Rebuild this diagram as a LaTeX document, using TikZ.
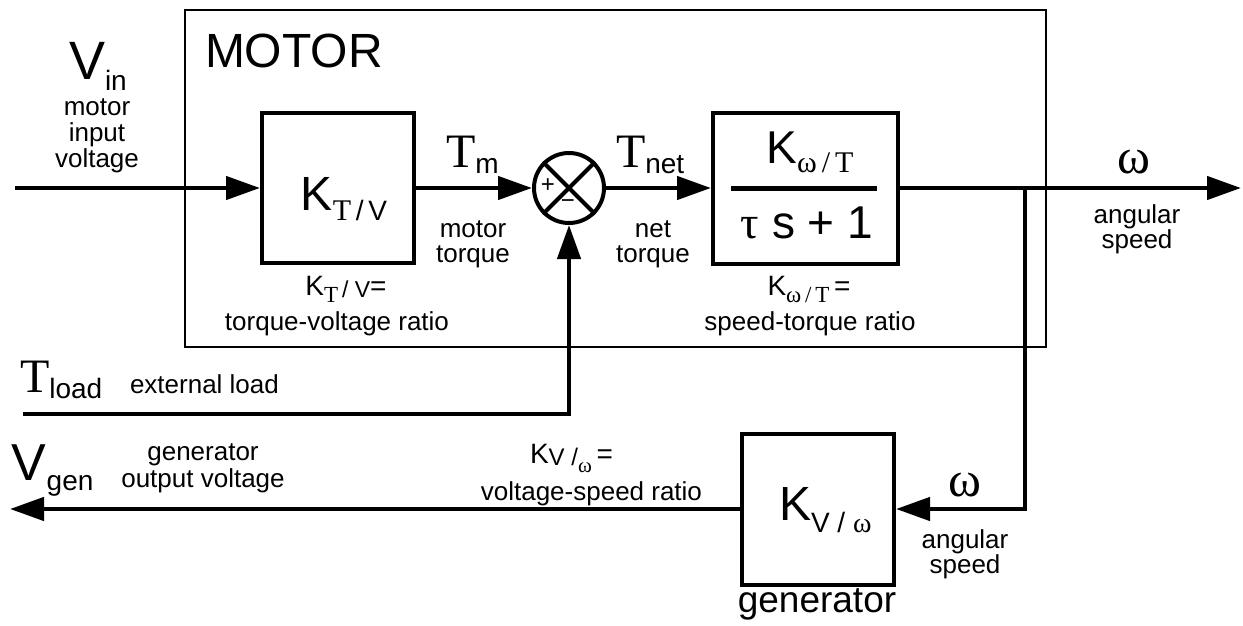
\documentclass[tikz,border=0pt]{standalone}
\usepackage{fontspec}
\setmainfont{Liberation Sans}
\newfontfamily\tms{Liberation Serif}
\usetikzlibrary{arrows.meta,shapes.geometric}
\newcommand\fz[1]{\fontsize{#1pt}{#1pt}\selectfont}
\begin{document}
\begin{tikzpicture}[x=1pt,y=-1pt,
  sig/.style={line width=4.5pt},
  sigarrow/.style={line width=4.5pt,-{Triangle[length=34pt,width=23pt]}},
  blk/.style={draw,line width=4pt,inner sep=0pt},
  txt/.style={inner sep=0pt,outer sep=0pt},
  small/.style={txt,anchor=base,font=\fz{26}}]
\useasboundingbox (0,0) rectangle (1243,626);
% motor enclosure
\node[draw,line width=1.8pt,minimum width=861pt,minimum height=337pt,inner sep=0pt] (motor) at (615.5,178.5) {};
% blocks
\node[blk,minimum width=152pt,minimum height=150pt] (kt) at (338,188) {};
\node[blk,circle,minimum size=70pt] (sum) at (569,188) {};
\node[blk,minimum width=185pt,minimum height=151pt] (kw) at (805.5,188) {};
\node[blk,minimum width=152pt,minimum height=151pt] (gen) at (818,509) {};
% summing junction cross
\draw[line width=4pt] (sum.north west) -- (sum.south east);
\draw[line width=4pt] (sum.north east) -- (sum.south west);
% fraction bar
\draw[line width=5pt] ([xshift=20pt]kw.west) -- ([xshift=-23pt]kw.east);
% free ends
\coordinate (vin) at (15,188);
\coordinate (wout) at (1241,188);
\coordinate (br) at (1025,188);
\coordinate (tl) at (23,414);
\coordinate (vgen) at (10,509);
% connectors
\draw[sigarrow] (vin) -- (kt.west);
\draw[sigarrow] (kt.east) -- (sum.west);
\draw[sigarrow] (sum.east) -- (kw.west);
\draw[sigarrow] (kw.east) -- (wout);
\draw[sigarrow] (br) |- (gen.east);
\draw[sigarrow] (tl) -| (sum.south);
\draw[sigarrow] (gen.west) -- (vgen);
% texts
\node[txt,anchor=base west] (motorlbl) at (205,68) {\fz{48}MOTOR};
\node[txt,anchor=base west] (vinlbl) at (69,80) {\fz{54}V\raisebox{-11pt}{\fz{28}in}};
\node[small] (vin1) at (97,115) {motor};
\node[small] (vin2) at (97,141) {input};
\node[small] (vin3) at (97,167) {voltage};
\node[txt,anchor=base] (ktlbl) at (344,210) {\fz{48}K\raisebox{-10pt}{{\fz{30}\tms T}\fz{28}\,/\,V}};
\node[txt,anchor=base] (ktdef) at (346,295) {\fz{28}K\raisebox{-7pt}{\fz{23}\tms T}\raisebox{-2pt}{\fz{23}\,/ V}=};
\node[small] (ktdef2) at (337,330) {torque-voltage ratio};
\node[txt,anchor=base west] (tmlbl) at (446,167) {{\fz{48}\tms T}\raisebox{-6pt}{\fz{28}m}};
\node[small] (tm1) at (473,237) {motor};
\node[small] (tm2) at (473,262) {torque};
\node[txt] (plus) at (548,186) {\fz{24}+};
\node[txt] (minus) at (568,204) {\fz{24}−};
\node[txt,anchor=base west] (tnetlbl) at (616,167) {{\fz{48}\tms T}\raisebox{-6pt}{\fz{28}net}};
\node[small] (tn1) at (653,237) {net};
\node[small] (tn2) at (653,262) {torque};
\node[txt,anchor=base] (num) at (810,163) {\fz{46}K\raisebox{-9pt}{\fz{30}\tms ω\,/\,T}};
\node[txt,anchor=base] (den) at (807,238) {\fz{46}{\tms τ} s + 1};
\node[txt,anchor=base] (kwdef) at (809,295) {\fz{28}K\raisebox{-7pt}{\fz{23}\tms ω\,/\,T}\,=};
\node[small] (kwdef2) at (810,330) {speed-torque ratio};
\node[txt,anchor=base] (wlbl) at (1134,173) {\fz{50}\tms ω};
\node[small] (w1) at (1137,223) {angular};
\node[small] (w2) at (1137,248) {speed};
\node[txt,anchor=base west] (tload) at (20,392) {{\fz{48}\tms T}\raisebox{-6pt}{\fz{28}load}};
\node[small,anchor=base west] (extload) at (130,393) {external load};
\node[txt,anchor=base west] (vgenlbl) at (12,480) {\fz{52}V\raisebox{-10pt}{\fz{28}gen}};
\node[small] (g1) at (203,460) {generator};
\node[small] (g2) at (203,487) {output voltage};
\node[txt,anchor=base west] (kvdef) at (530,463) {\fz{28}K\raisebox{-2pt}{\fz{24}V /}\raisebox{-9pt}{\fz{21}\tms ω}\,=};
\node[small,anchor=base east] (kvdef2) at (702,500) {voltage-speed ratio};
\node[txt,anchor=base west] (kvlbl) at (779,520) {\fz{48}K\raisebox{-12pt}{\fz{28}V / {\tms ω}}};
\node[txt,anchor=base] (wglbl) at (965,496) {\fz{50}\tms ω};
\node[small] (wg1) at (965,548) {angular};
\node[small] (wg2) at (965,573) {speed};
\node[txt,anchor=base] (genlbl) at (817,612) {\fz{37}generator};
\end{tikzpicture}
\end{document}
